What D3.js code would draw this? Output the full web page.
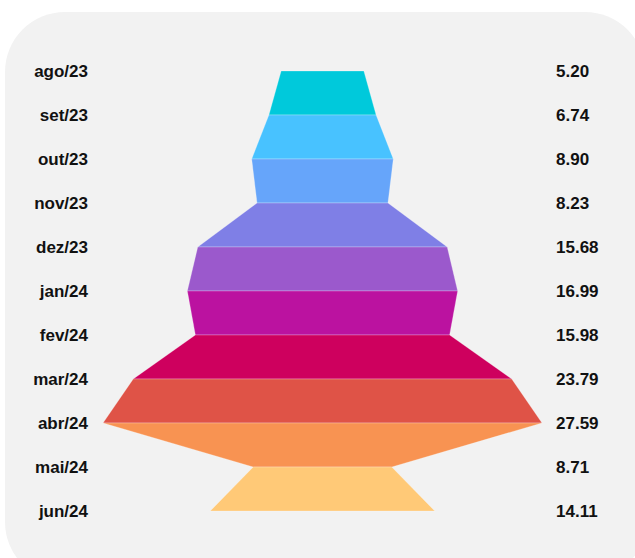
<!DOCTYPE html>
<html>
<head>
<meta charset="utf-8">
<script src="https://cdn.jsdelivr.net/npm/d3@7"></script>
<style>
  body { margin: 0; background: #fff; }
  #chart { width: 635px; height: 558px; }
  text { font-family: "Liberation Sans", Arial, sans-serif; font-weight: bold; font-size: 17px; fill: #111; }
</style>
</head>
<body>
<div id="chart"></div>
<script>
// data
var months = ["ago/23", "set/23", "out/23", "nov/23", "dez/23", "jan/24", "fev/24", "mar/24", "abr/24", "mai/24", "jun/24"];
var values = [5.20, 6.74, 8.90, 8.23, 15.68, 16.99, 15.98, 23.79, 27.59, 8.71, 14.11];
var colors = ["#00c9db", "#48c2ff", "#66a5fa", "#7f7fe6", "#9b59cc", "#bb12a0", "#ce005e", "#df5347", "#f89352", "#ffc977"];

function init() {
    var svgWidth = 635;
    var svgHeight = 558;
    var centerX = 322.5;

    var svg = d3.select("#chart")
        .append("svg")
        .attr("width", svgWidth)
        .attr("height", svgHeight);

    // background panel
    svg.append("rect")
        .attr("x", 5)
        .attr("y", 12)
        .attr("width", 640)
        .attr("height", 570)
        .attr("rx", 60)
        .attr("ry", 60)
        .attr("fill", "#f2f2f2");

    var yScale = d3.scalePoint()
        .domain(months)
        .range([71, 511]);

    var wScale = d3.scaleLinear()
        .domain([0, d3.max(values)])
        .range([0, 439]);

    // each band runs from one month's width to the next
    var bands = d3.range(values.length - 1).map(i => ({
        y0: yScale(months[i]), y1: yScale(months[i + 1]),
        w0: wScale(values[i]) / 2, w1: wScale(values[i + 1]) / 2,
        color: colors[i]
    }));

    svg.selectAll("path.band")
        .data(bands)
        .enter()
        .append("path")
        .attr("class", "band")
        .attr("d", d => "M" + (centerX - d.w0) + "," + d.y0 +
            "L" + (centerX + d.w0) + "," + d.y0 +
            "L" + (centerX + d.w1) + "," + d.y1 +
            "L" + (centerX - d.w1) + "," + d.y1 + "Z")
        .attr("fill", d => d.color)
        .attr("stroke", "rgba(255,255,255,0.25)")
        .attr("stroke-width", 1);

    svg.selectAll("text.month")
        .data(months)
        .enter()
        .append("text")
        .attr("class", "month")
        .attr("x", 88)
        .attr("y", d => yScale(d))
        .attr("dy", "0.35em")
        .attr("text-anchor", "end")
        .text(d => d);

    svg.selectAll("text.value")
        .data(values)
        .enter()
        .append("text")
        .attr("class", "value")
        .attr("x", 556)
        .attr("y", (d, i) => yScale(months[i]))
        .attr("dy", "0.35em")
        .attr("text-anchor", "start")
        .text(d => d.toFixed(2));
}
window.addEventListener('load', init, false);
</script>
</body>
</html>
